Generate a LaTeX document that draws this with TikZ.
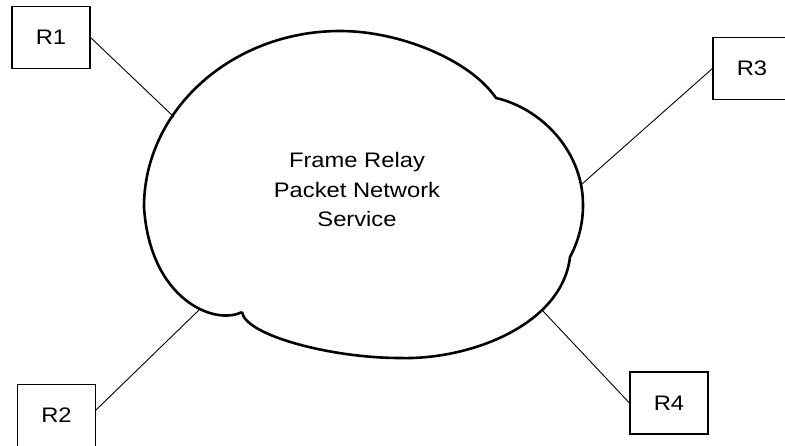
\documentclass[tikz,border=0pt]{standalone}
\usepackage{fontspec}
\setmainfont[FakeStretch=1.13]{Liberation Sans}
\usepackage{tikz}

\begin{document}
\begin{tikzpicture}[x=1pt, y=-1pt,
  router/.style={draw, line width=1.1pt, minimum width=78pt, minimum height=62pt, inner sep=0pt, font=\fontsize{21}{25}\selectfont},
  link/.style={line width=0.9pt}]
\useasboundingbox (0,0) rectangle (785,446);
% the network cloud
\draw[line width=2.6pt, line join=round] (242,312) .. controls (215,326) and (150,300) .. (144,207)
  .. controls (144,110) and (232,31) .. (340,31)
  .. controls (400,31) and (470,60) .. (496,98)
  .. controls (540,108) and (583,150) .. (583,205)
  .. controls (583,225) and (578,242) .. (570,257)
  .. controls (562,325) and (470,360) .. (400,358)
  .. controls (330,358) and (245,335) .. (242,312);
\node[font=\fontsize{21}{29.5}\selectfont, align=center, inner sep=0pt] (net) at (357,189.5) {Frame Relay\\Packet Network\\Service};
\coordinate (c1) at (174,117);
\coordinate (c2) at (200,309);
\coordinate (c3) at (582,184);
\coordinate (c4) at (542,310);
% routers
\node[router] (R1) at (51,37.5) {R1};
\node[router] (R2) at (56.5,415.5) {R2};
\node[router] (R3) at (752,68.5) {R3};
\node[router] (R4) at (669,403) {R4};
\draw[link] (R1.east) -- (c1);
\draw[link] (R2.8) -- (c2);
\draw[link] (R3.west) -- (c3);
\draw[link] (R4.west) -- (c4);
\end{tikzpicture}
\end{document}
